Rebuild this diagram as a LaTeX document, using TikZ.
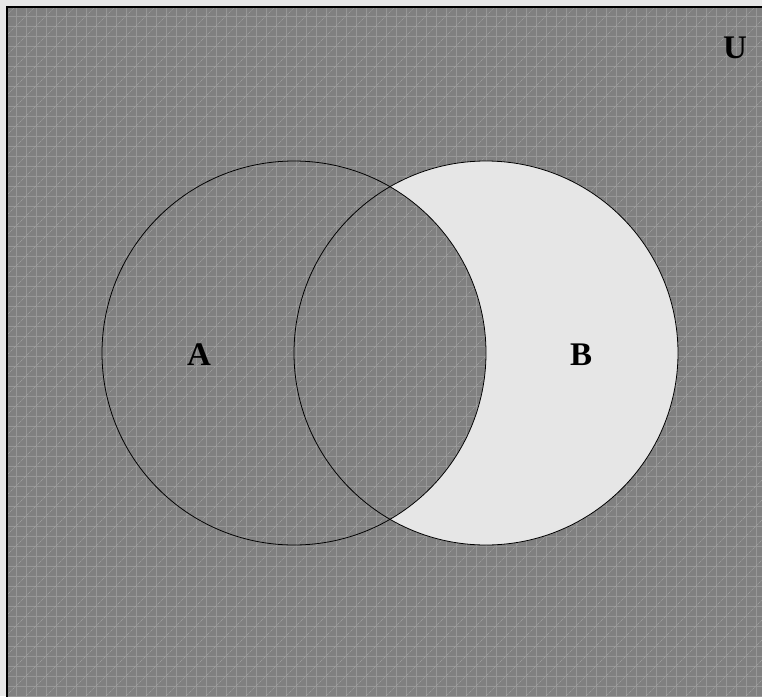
\documentclass[tikz,border=0pt]{standalone}
\usepackage{fontspec}
\setmainfont{Liberation Serif}
\definecolor{margin}{HTML}{E8E8E8}
\definecolor{ubg}{HTML}{808080}
\definecolor{gridc}{HTML}{979797}
\definecolor{diagc}{HTML}{A4A4A4}
\definecolor{bfill}{HTML}{E6E6E6}
\begin{document}
\begin{tikzpicture}[x=1pt,y=-1pt,
  lbl/.style={font=\fontsize{33}{33}\selectfont\bfseries, inner sep=0pt},
  circ/.style={draw=black, line width=0.8pt}]
\useasboundingbox (0,0) rectangle (762,696);
\fill[margin] (0,0) rectangle (762,696);
% universe
\fill[ubg] (6,6) rectangle (770,704);
\begin{scope}
\clip (6,6) rectangle (762,696);
\foreach \i in {0,...,76} {
  \draw[gridc, line width=1pt] (6+10*\i,6) -- (6+10*\i,696);
}
\foreach \i in {0,...,69} {
  \draw[gridc, line width=1pt] (6,6+10*\i) -- (762,6+10*\i);
}
\foreach \i in {0,...,75} {
  \draw[diagc, line width=0.6pt, dash pattern=on 1.2pt off 0.8pt] (6+20*\i-700,696) -- (6+20*\i,-4);
}
\end{scope}
\draw[black, line width=1.6pt] (6.8,700) -- (6.8,6.8) -- (770,6.8);
% B minus A
\begin{scope}[even odd rule]
\clip (294,353) circle[radius=192] (0,0) rectangle (762,696);
\fill[bfill] (486,353) circle[radius=192];
\end{scope}
\node[circ, circle, minimum size=384pt, inner sep=0pt] (A) at (294,353) {};
\node[circ, circle, minimum size=384pt, inner sep=0pt] (B) at (486,353) {};
\node[lbl] (la) at (199,355) {A};
\node[lbl] (lb) at (581,355) {B};
\node[lbl] (lu) at (735,48) {U};
\end{tikzpicture}
\end{document}
